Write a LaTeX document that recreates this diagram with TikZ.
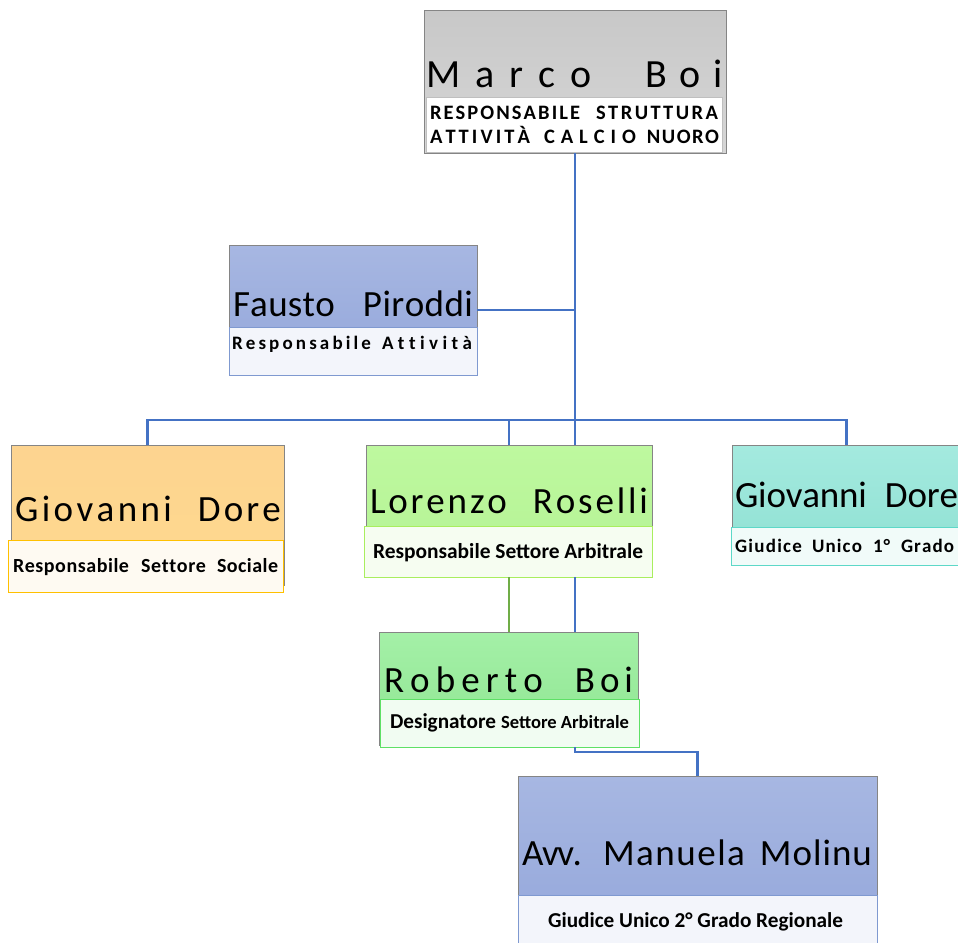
\documentclass[tikz,border=0pt]{standalone}
\usepackage{fontspec}
\setmainfont{Carlito}
\ExplSyntaxOn
\bool_new:N \l_spr_first_bool
\NewDocumentCommand \spr { m m }
  {
    \makebox[#1][s]{
      \bool_set_true:N \l_spr_first_bool
      \tl_map_inline:nn {#2}
        {
          \bool_if:NF \l_spr_first_bool { \hss }
          \bool_set_false:N \l_spr_first_bool
          ##1
        }
    }
  }
\ExplSyntaxOff
\newlength\fitlen
\newcommand\fitw[2]{{\settowidth\fitlen{\fontsize{20}{24}\selectfont #2}%
  \pgfmathsetmacro\fitsz{20*#1/\fitlen}%
  \fontsize{\fitsz}{\fitsz}\selectfont #2}}
\definecolor{conn}{HTML}{4472C4}
\definecolor{connG}{HTML}{70AD47}
\definecolor{frame}{HTML}{858585}
\definecolor{grayT}{HTML}{C8C8C8}
\definecolor{grayB}{HTML}{D6D6D6}
\definecolor{grayS}{HTML}{BFBFBF}
\definecolor{blueT}{HTML}{A7B7E2}
\definecolor{blueB}{HTML}{93A6DA}
\definecolor{blueS}{HTML}{7F99D0}
\definecolor{blueF}{HTML}{F3F5FB}
\definecolor{orT}{HTML}{FDD490}
\definecolor{orB}{HTML}{FED98E}
\definecolor{orS}{HTML}{FFC000}
\definecolor{orF}{HTML}{FEFAF2}
\definecolor{lgT}{HTML}{BEF89F}
\definecolor{lgB}{HTML}{B4F394}
\definecolor{lgS}{HTML}{A9EE5E}
\definecolor{lgF}{HTML}{F6FDF1}
\definecolor{tlT}{HTML}{A4EADF}
\definecolor{tlB}{HTML}{8EE0D2}
\definecolor{tlS}{HTML}{5DD8C8}
\definecolor{tlF}{HTML}{F1FBF9}
\definecolor{gnT}{HTML}{A4F0A7}
\definecolor{gnB}{HTML}{8FE592}
\definecolor{gnS}{HTML}{5EE066}
\definecolor{gnF}{HTML}{F1FCF2}
\tikzset{
  outerbox/.style={rectangle, draw=frame, line width=1pt, inner sep=0pt, outer sep=0pt},
  subbox/.style={rectangle, line width=1pt, inner sep=0pt, outer sep=0pt},
  txt/.style={anchor=base west, inner sep=0pt, outer sep=0pt},
  namefont/.style={font=\fontsize{37}{40}\selectfont},
  link/.style={draw=conn, line width=2.4pt},
  linkG/.style={draw=connG, line width=2.4pt}
}
\begin{document}
\begin{tikzpicture}[x=1pt, y=-1pt]
\useasboundingbox (0,0) rectangle (958,942);
\fill[white] (0,0) rectangle (958,942);

% Marco Boi
\node[outerbox, top color=grayT, bottom color=grayB, minimum width=302pt, minimum height=142pt] (marco) at (575,82) {};
\node[subbox, draw=grayS, fill=white, minimum width=296pt, minimum height=55pt] (marcosub) at (574,124.5) {};
\node[txt, font=\fontsize{40}{42}\selectfont] (marconame) at (426,88) {\spr{166pt}{Marco}\hspace{53pt}\spr{78pt}{Boi}};
\node[txt, font=\bfseries\fontsize{20.5}{22}\selectfont] (marcol1) at (430,119) {\spr{150pt}{RESPONSABILE}\hspace{16pt}\spr{122pt}{STRUTTURA}};
\node[txt, font=\bfseries\fontsize{20.5}{22}\selectfont] (marcol2) at (430,143) {\spr{100pt}{ATTIVITÀ}\hspace{14pt}\spr{92pt}{CALCIO}\hspace{11pt}\spr{72pt}{NUORO}};

% Fausto Piroddi
\node[outerbox, top color=blueT, bottom color=blueB, minimum width=248pt, minimum height=130pt] (fausto) at (353,310) {};
\node[subbox, draw=blueS, fill=blueF, minimum width=248pt, minimum height=48pt] (faustosub) at (353,351) {};
\node[txt, namefont] (faustoname) at (233,316) {\spr{102pt}{Fausto}\hspace{28pt}\spr{110pt}{Piroddi}};
\node[txt, font=\bfseries\fontsize{19}{21}\selectfont] (faustorole) at (232,349) {\spr{139pt}{Responsabile}\hspace{11pt}\spr{90pt}{Attività}};

% Giovanni Dore (orange)
\node[outerbox, top color=orT, bottom color=orB, minimum width=273pt, minimum height=140pt] (gdore) at (147.5,515) {};
\node[subbox, draw=orS, fill=orF, minimum width=275pt, minimum height=52pt] (gdoresub) at (145.5,566) {};
\node[txt, namefont] (gdorename) at (15,521) {\spr{157pt}{Giovanni}\hspace{26pt}\spr{83pt}{Dore}};
\node[txt, font=\bfseries\fontsize{20}{22}\selectfont] (gdorerole) at (13,572) {\spr{116pt}{Responsabile}\hspace{12pt}\spr{65pt}{Settore}\hspace{11pt}\spr{61pt}{Sociale}};

% Lorenzo Roselli
\node[outerbox, top color=lgT, bottom color=lgB, minimum width=286pt, minimum height=132pt] (lorenzo) at (509,511) {};
\node[subbox, draw=lgS, fill=lgF, minimum width=288pt, minimum height=51pt] (lorenzosub) at (508,551.5) {};
\node[txt, namefont] (lorenzoname) at (370,513) {\spr{137pt}{Lorenzo}\hspace{26pt}\spr{115pt}{Roselli}};
\node[txt, font=\bfseries] (lorenzorole) at (373,558) {\fitw{270}{Responsabile Settore Arbitrale}};

% Giovanni Dore (teal)
\node[outerbox, top color=tlT, bottom color=tlB, minimum width=229pt, minimum height=120pt] (gdore2) at (846.5,505) {};
\node[subbox, draw=tlS, fill=tlF, minimum width=230pt, minimum height=38pt] (gdore2sub) at (846,546) {};
\node[txt, namefont] (gdore2name) at (735,507) {\spr{132pt}{Giovanni}\hspace{18pt}\spr{73pt}{Dore}};
\node[txt, font=\bfseries\fontsize{19}{22}\selectfont] (gdore2role) at (735,552) {\spr{67pt}{Giudice}\hspace{10pt}\spr{50pt}{Unico}\hspace{11pt}\spr{17pt}{1°}\hspace{11pt}\spr{53pt}{Grado}};

% Roberto Boi
\node[outerbox, top color=gnT, bottom color=gnB, minimum width=259pt, minimum height=113pt] (roberto) at (508.5,688.5) {};
\node[subbox, draw=gnS, fill=gnF, minimum width=259pt, minimum height=48pt] (robertosub) at (509.5,723) {};
\node[txt, namefont] (robertoname) at (384,692) {\spr{159pt}{Roberto}\hspace{32pt}\spr{58pt}{Boi}};
\node[txt, font=\bfseries] (robertorole) at (390,728) {\fitw{106}{Designatore}\hspace{5pt}\fitw{128}{Settore Arbitrale}};

% Avv. Manuela Molinu
\node[outerbox, top color=blueT, bottom color=blueB, minimum width=359pt, minimum height=174pt] (avv) at (697.5,863) {};
\node[subbox, draw=blueS, fill=blueF, minimum width=359pt, minimum height=55pt] (avvsub) at (697.5,922.5) {};
\node[txt, namefont] (avvname) at (522,865) {\spr{60pt}{Avv.}\hspace{21pt}\spr{142pt}{Manuela}\hspace{15pt}\spr{112pt}{Molinu}};
\node[txt, font=\bfseries] (avvrole) at (548,927) {\fitw{295}{Giudice Unico 2° Grado Regionale}};

% connectors
\coordinate (bus) at (0,420);
\draw[link] (marco.south) -- (marco.south |- lorenzo.north);
\draw[link] (fausto.east) -- (fausto.east -| marco.south);
\draw[link] (gdore.north) -- (gdore.north |- bus) -| (gdore2.north);
\draw[link] (lorenzo.north) -- (lorenzo.north |- bus);
\draw[linkG] (lorenzosub.south -| lorenzo.south) -- (lorenzo.south |- roberto.north);
\draw[link] (lorenzosub.south -| marco.south) -- (roberto.north -| marco.south);
\draw[link] (robertosub.south -| marco.south) -- ++(0,5) -| (avv.north);
\end{tikzpicture}
\end{document}
